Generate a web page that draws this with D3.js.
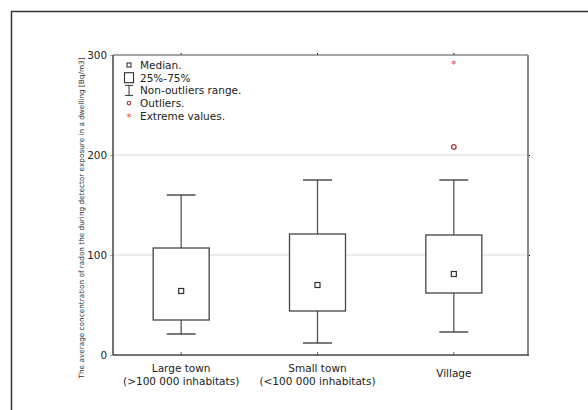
<!DOCTYPE html>
<html>
<head>
<meta charset="utf-8">
<script src="https://cdn.jsdelivr.net/npm/d3@7"></script>
<style>
  body { margin: 0; background: #fff; }
  svg text { font-family: "DejaVu Sans", sans-serif; fill: #222; }
</style>
</head>
<body>
<script>
// chart data
var categories = ['Large town|(>100 000 inhabitats)', 'Small town|(<100 000 inhabitats)', 'Village'];
var medians = [64, 70, 81];
var q1 = [35, 44, 62];
var q3 = [107, 121, 120];
var whiskLow = [21, 12, 23];
var whiskHigh = [160, 175, 175];
var outliers = [[], [], [208]];
var extremes = [[], [], [292]];
var yTicks = [0, 100, 200, 300];
var legendItems = ['Median.', '25%-75%', 'Non-outliers range.', 'Outliers.', 'Extreme values.'];

(function () {
var width = 588, height = 410;
var svg = d3.select('body').append('svg').attr('width', width).attr('height', height);

// outer frame
svg.append('rect').attr('x', 11.5).attr('y', 11.5).attr('width', 700).attr('height', 600)
   .attr('fill', 'none').attr('stroke', '#333').attr('stroke-width', 1.5);

var pLeft = 113, pRight = 528, pTop = 55, pBottom = 355;
var x = d3.scaleBand().domain(categories).range([pLeft, pRight - 6]);
var y = d3.scaleLinear().domain([0, 300]).range([pBottom, pTop]);

// gridlines
svg.append('g').selectAll('line').data([100, 200]).enter().append('line')
   .attr('x1', pLeft).attr('x2', pRight)
   .attr('y1', function (d) { return y(d); }).attr('y2', function (d) { return y(d); })
   .attr('stroke', '#d8d8d8').attr('stroke-width', 1);

// y axis
var yAxis = svg.append('g').attr('transform', 'translate(' + pLeft + ',0)')
   .call(d3.axisLeft(y).tickValues(yTicks).tickSize(3).tickPadding(3));
yAxis.select('.domain').remove();
yAxis.selectAll('text').style('font-size', '10.4px').attr('fill', '#222');
yAxis.selectAll('line').attr('stroke', '#aaa');

// right ticks
svg.append('g').attr('transform', 'translate(' + pRight + ',0)')
   .call(d3.axisRight(y).tickValues([100, 200]).tickSize(2).tickFormat(''))
   .select('.domain').remove();

// top ticks
svg.append('g').attr('transform', 'translate(0,' + pTop + ')')
   .call(d3.axisTop(x).tickSize(2).tickFormat(''))
   .select('.domain').remove();

// x axis (ticks inward)
var xAxis = svg.append('g').attr('transform', 'translate(0,' + pBottom + ')')
   .call(d3.axisBottom(x).tickSize(-3).tickFormat(''));
xAxis.select('.domain').remove();
xAxis.selectAll('line').attr('stroke', '#666');

// category labels
categories.forEach(function (c) {
  var parts = c.split('|');
  var cx = x(c) + x.bandwidth() / 2;
  var t = svg.append('text').attr('x', cx)
     .attr('text-anchor', 'middle').style('font-size', '10.5px');
  if (parts.length === 1) {
    t.attr('y', pBottom + 22).text(parts[0]);
  } else {
    parts.forEach(function (p, i) {
      t.append('tspan').attr('x', cx).attr('y', pBottom + 17 + i * 13).text(p);
    });
  }
});

// plot frame
svg.append('line').attr('x1', pLeft).attr('x2', pRight).attr('y1', pTop).attr('y2', pTop)
   .attr('stroke', '#888').attr('stroke-width', 1.5);
svg.append('line').attr('x1', pRight).attr('x2', pRight).attr('y1', pTop).attr('y2', pBottom)
   .attr('stroke', '#888').attr('stroke-width', 2);
svg.append('line').attr('x1', pLeft).attr('x2', pRight + 1).attr('y1', pBottom).attr('y2', pBottom)
   .attr('stroke', '#444').attr('stroke-width', 1.5);
svg.append('line').attr('x1', pLeft).attr('x2', pLeft).attr('y1', pTop).attr('y2', pBottom)
   .attr('stroke', '#444').attr('stroke-width', 1.5);

// boxes
var boxW = 56, capW = 29;
var g = svg.append('g').selectAll('g').data(categories).enter().append('g')
   .attr('transform', function (d) { return 'translate(' + (x(d) + x.bandwidth() / 2) + ',0)'; });

g.append('line').attr('x1', 0).attr('x2', 0)
   .attr('y1', function (d, i) { return y(whiskHigh[i]); })
   .attr('y2', function (d, i) { return y(q3[i]); })
   .attr('stroke', '#555').attr('stroke-width', 1.3);
g.append('line').attr('x1', 0).attr('x2', 0)
   .attr('y1', function (d, i) { return y(q1[i]); })
   .attr('y2', function (d, i) { return y(whiskLow[i]); })
   .attr('stroke', '#555').attr('stroke-width', 1.3);
g.append('line').attr('x1', -capW / 2).attr('x2', capW / 2)
   .attr('y1', function (d, i) { return y(whiskHigh[i]); })
   .attr('y2', function (d, i) { return y(whiskHigh[i]); })
   .attr('stroke', '#333').attr('stroke-width', 1.3);
g.append('line').attr('x1', -capW / 2).attr('x2', capW / 2)
   .attr('y1', function (d, i) { return y(whiskLow[i]); })
   .attr('y2', function (d, i) { return y(whiskLow[i]); })
   .attr('stroke', '#333').attr('stroke-width', 1.3);
g.append('rect').attr('x', -boxW / 2).attr('width', boxW)
   .attr('y', function (d, i) { return y(q3[i]); })
   .attr('height', function (d, i) { return y(q1[i]) - y(q3[i]); })
   .attr('fill', '#fff').attr('stroke', '#444').attr('stroke-width', 1.3);
g.append('rect').attr('x', -2.5).attr('width', 5)
   .attr('y', function (d, i) { return y(medians[i]) - 2.5; }).attr('height', 5)
   .attr('fill', '#fff').attr('stroke', '#333').attr('stroke-width', 1.2);

g.each(function (d, i) {
  var sel = d3.select(this);
  outliers[i].forEach(function (v) {
    sel.append('circle').attr('cx', 0).attr('cy', y(v)).attr('r', 2.3)
       .attr('fill', 'none').attr('stroke', '#a33').attr('stroke-width', 1.3);
  });
  extremes[i].forEach(function (v) {
    sel.append('text').attr('x', 0).attr('y', y(v) + 5).attr('text-anchor', 'middle')
       .style('font-size', '11px').style('fill', '#e44').text('*');
  });
});

// legend
var lx = 129, ly = 65, lh = 12.7;
var leg = svg.append('g');
legendItems.forEach(function (t, i) {
  leg.append('text').attr('x', 140).attr('y', ly + i * lh + 4).style('font-size', '10.5px').text(t);
});
leg.append('rect').attr('x', lx - 2).attr('y', ly - 2).attr('width', 4).attr('height', 4)
   .attr('fill', '#fff').attr('stroke', '#333').attr('stroke-width', 1.1);
leg.append('rect').attr('x', lx - 4.5).attr('y', ly + lh - 5).attr('width', 9).attr('height', 10)
   .attr('fill', '#fff').attr('stroke', '#333').attr('stroke-width', 1.1);
var ey = ly + 2 * lh;
leg.append('line').attr('x1', lx).attr('x2', lx).attr('y1', ey - 5).attr('y2', ey + 5).attr('stroke', '#333');
leg.append('line').attr('x1', lx - 4).attr('x2', lx + 4).attr('y1', ey - 5).attr('y2', ey - 5).attr('stroke', '#333');
leg.append('line').attr('x1', lx - 4).attr('x2', lx + 4).attr('y1', ey + 5).attr('y2', ey + 5).attr('stroke', '#333');
leg.append('circle').attr('cx', lx).attr('cy', ly + 3 * lh).attr('r', 1.8)
   .attr('fill', 'none').attr('stroke', '#a33').attr('stroke-width', 1.1);
leg.append('text').attr('x', lx).attr('y', ly + 4 * lh + 5).attr('text-anchor', 'middle')
   .style('font-size', '10px').style('fill', '#e44').text('*');

// y axis title
svg.append('text').attr('transform', 'translate(84,218) rotate(-90)')
   .attr('text-anchor', 'middle').style('font-size', '7.3px').style('fill', '#333')
   .text('The average concentration of radon the during detector exposure in a dwelling [Bq/m3]');
})();
</script>
</body>
</html>
